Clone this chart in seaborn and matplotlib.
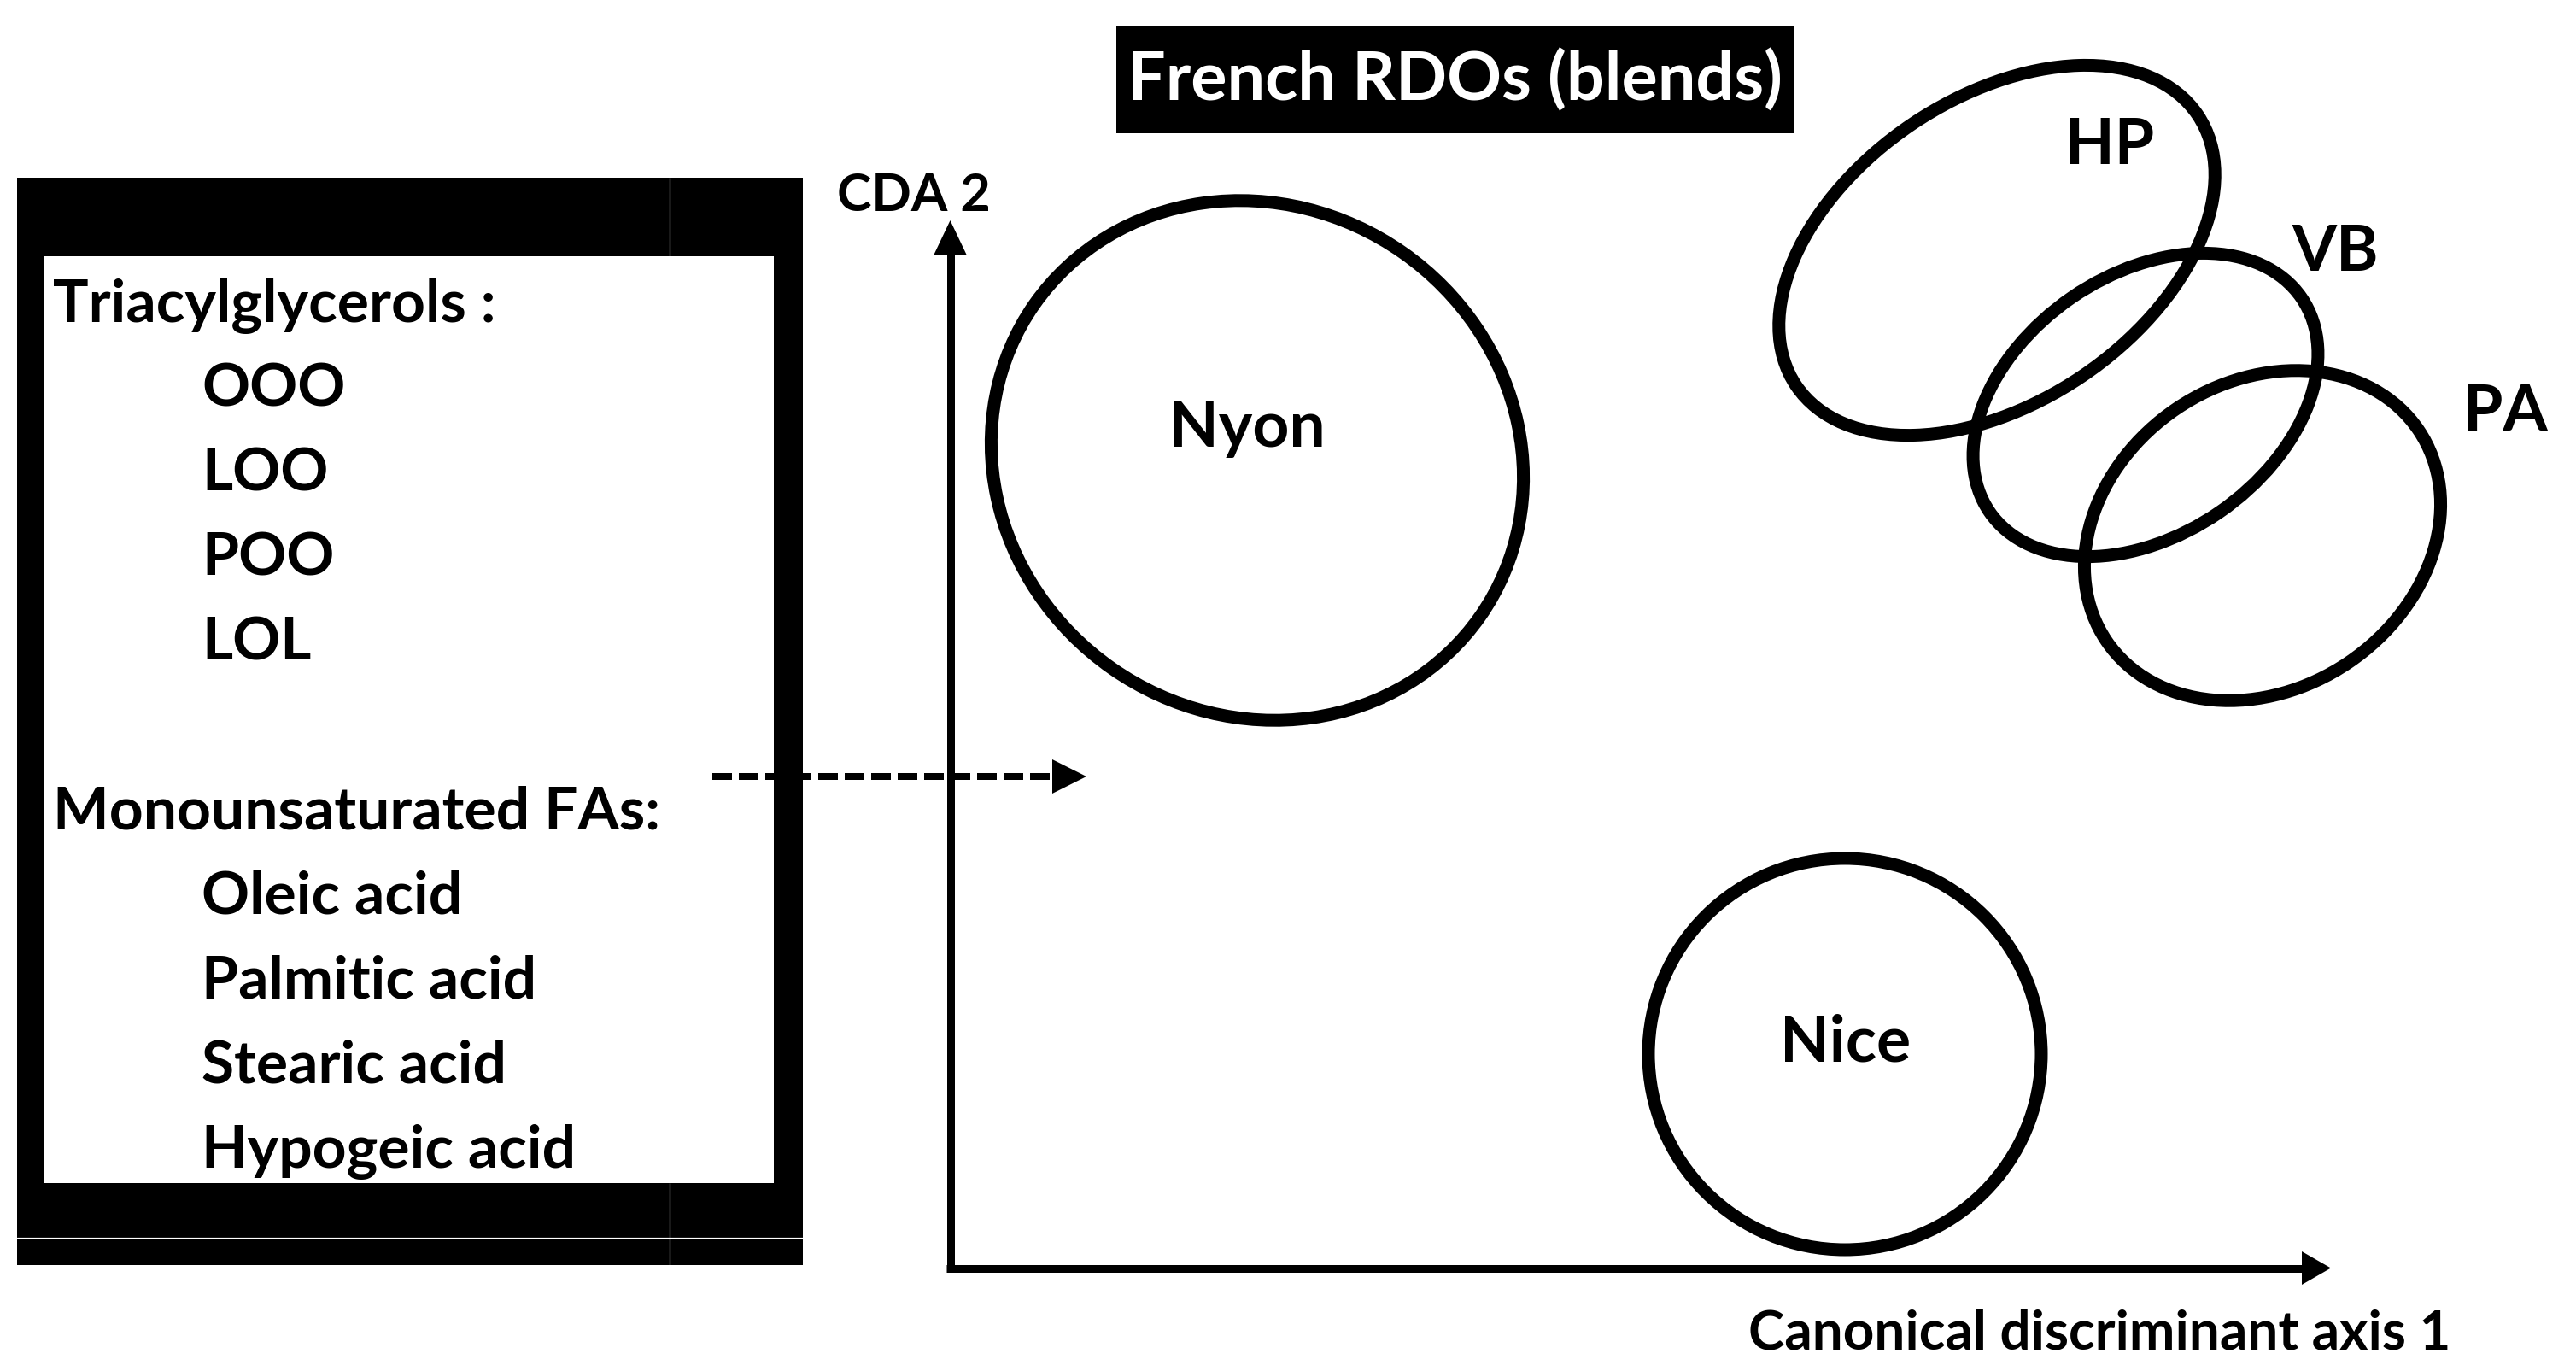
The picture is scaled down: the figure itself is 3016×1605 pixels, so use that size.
import matplotlib
matplotlib.use("Agg")
import matplotlib.pyplot as plt
from matplotlib.patches import Ellipse, Rectangle, Polygon
import seaborn as sns

# ---------------- data ----------------
groups = ["Nyon", "HP", "VB", "PA", "Nice"]
centers_x = [1472, 2338, 2512, 2649, 2160]
centers_y = [540, 294, 475, 628, 1235]
widths = [637, 567, 443, 441, 460]
heights = [594, 356, 305, 359, 458]
angles = [35, -34, -34.5, -34, 0]

label_x = [1460, 2470, 2734, 2933, 2161]
label_y = [496, 165, 290, 477, 1216]

title = "French RDOs (blends)"
x_label = "Canonical discriminant axis 1"
y_label = "CDA 2"

box_lines = ["Triacylglycerols :", "OOO", "LOO", "POO", "LOL", "",
             "Monounsaturated FAs:", "Oleic acid", "Palmitic acid",
             "Stearic acid", "Hypogeic acid"]
box_indent = [0, 1, 1, 1, 1, 0, 0, 1, 1, 1, 1]

# ---------------- style ----------------
sns.set_theme(style="white")
plt.rcParams["font.family"] = ["Lato", "DejaVu Sans"]
plt.rcParams["font.weight"] = "bold"

W, H = 3016, 1606
fig = plt.figure(figsize=(W / 100, H / 100), dpi=100)
ax = fig.add_axes([0, 0, 1, 1])
ax.set_xlim(0, W)
ax.set_ylim(H, 0)
ax.axis("off")

PX = 0.72  # points per pixel at dpi 100

# ---------------- left box ----------------
ax.add_patch(Rectangle((20, 209), 920, 1273, facecolor="black", edgecolor="none", zorder=1))
ax.add_patch(Rectangle((51, 301), 855, 1085, facecolor="white", edgecolor="none", zorder=2))
ax.plot([784, 784], [209, 301], color="white", lw=1.2 * PX, zorder=3)
ax.plot([784, 784], [1386, 1482], color="white", lw=1.2 * PX, zorder=3)
ax.plot([20, 940], [1450, 1450], color="white", lw=1.2 * PX, zorder=3)

for i, (txt, ind) in enumerate(zip(box_lines, box_indent)):
    if not txt:
        continue
    ax.text(62 if ind == 0 else 236, 377 + 99 * i, txt, fontsize=50,
            fontweight="bold", ha="left", va="baseline", color="black", zorder=4)

# ---------------- title ----------------
ax.add_patch(Rectangle((1307, 32), 793, 125, facecolor="black", edgecolor="none", zorder=1))
ax.text(1703, 90 + 28, title, fontsize=57, fontweight="bold", color="white",
        ha="center", va="baseline", zorder=2)

# ---------------- axes arrows ----------------
ax.plot([1112.5, 1112.5], [1490, 298], color="black", lw=9 * PX,
        solid_capstyle="butt", zorder=3)
ax.add_patch(Polygon([[1093, 300], [1132, 300], [1112.5, 259]], closed=True,
                     facecolor="black", edgecolor="none", zorder=3))
ax.plot([1108, 2697], [1485.5, 1485.5], color="black", lw=9 * PX,
        solid_capstyle="butt", zorder=3)
ax.add_patch(Polygon([[2695, 1466], [2695, 1505], [2729, 1485.5]], closed=True,
                     facecolor="black", edgecolor="none", zorder=3))

# dashed arrow
ax.plot([834, 1234], [910, 910], color="black", lw=8 * PX,
        linestyle=(0, (23 / 8, 8 / 8)), dash_capstyle="butt", zorder=3)
ax.add_patch(Polygon([[1232, 890], [1232, 930], [1272, 910]], closed=True,
                     facecolor="black", edgecolor="none", zorder=3))

ax.text(980, 247, y_label, fontsize=44, fontweight="bold", ha="left",
        va="baseline", color="black")
ax.text(2458, 1580, x_label, fontsize=46, fontweight="bold", ha="center",
        va="baseline", color="black")

# ---------------- ellipses ----------------
for g, cx, cy, w, h, a, lx, ly in zip(groups, centers_x, centers_y, widths,
                                      heights, angles, label_x, label_y):
    ax.add_patch(Ellipse((cx, cy), w, h, angle=a, fill=False,
                         edgecolor="black", lw=15 * PX, zorder=5))
    ax.text(lx, ly + 27, g, fontsize=54, fontweight="bold", ha="center",
            va="baseline", color="black", zorder=6)

fig.savefig("out.png", dpi=100, facecolor="white")
